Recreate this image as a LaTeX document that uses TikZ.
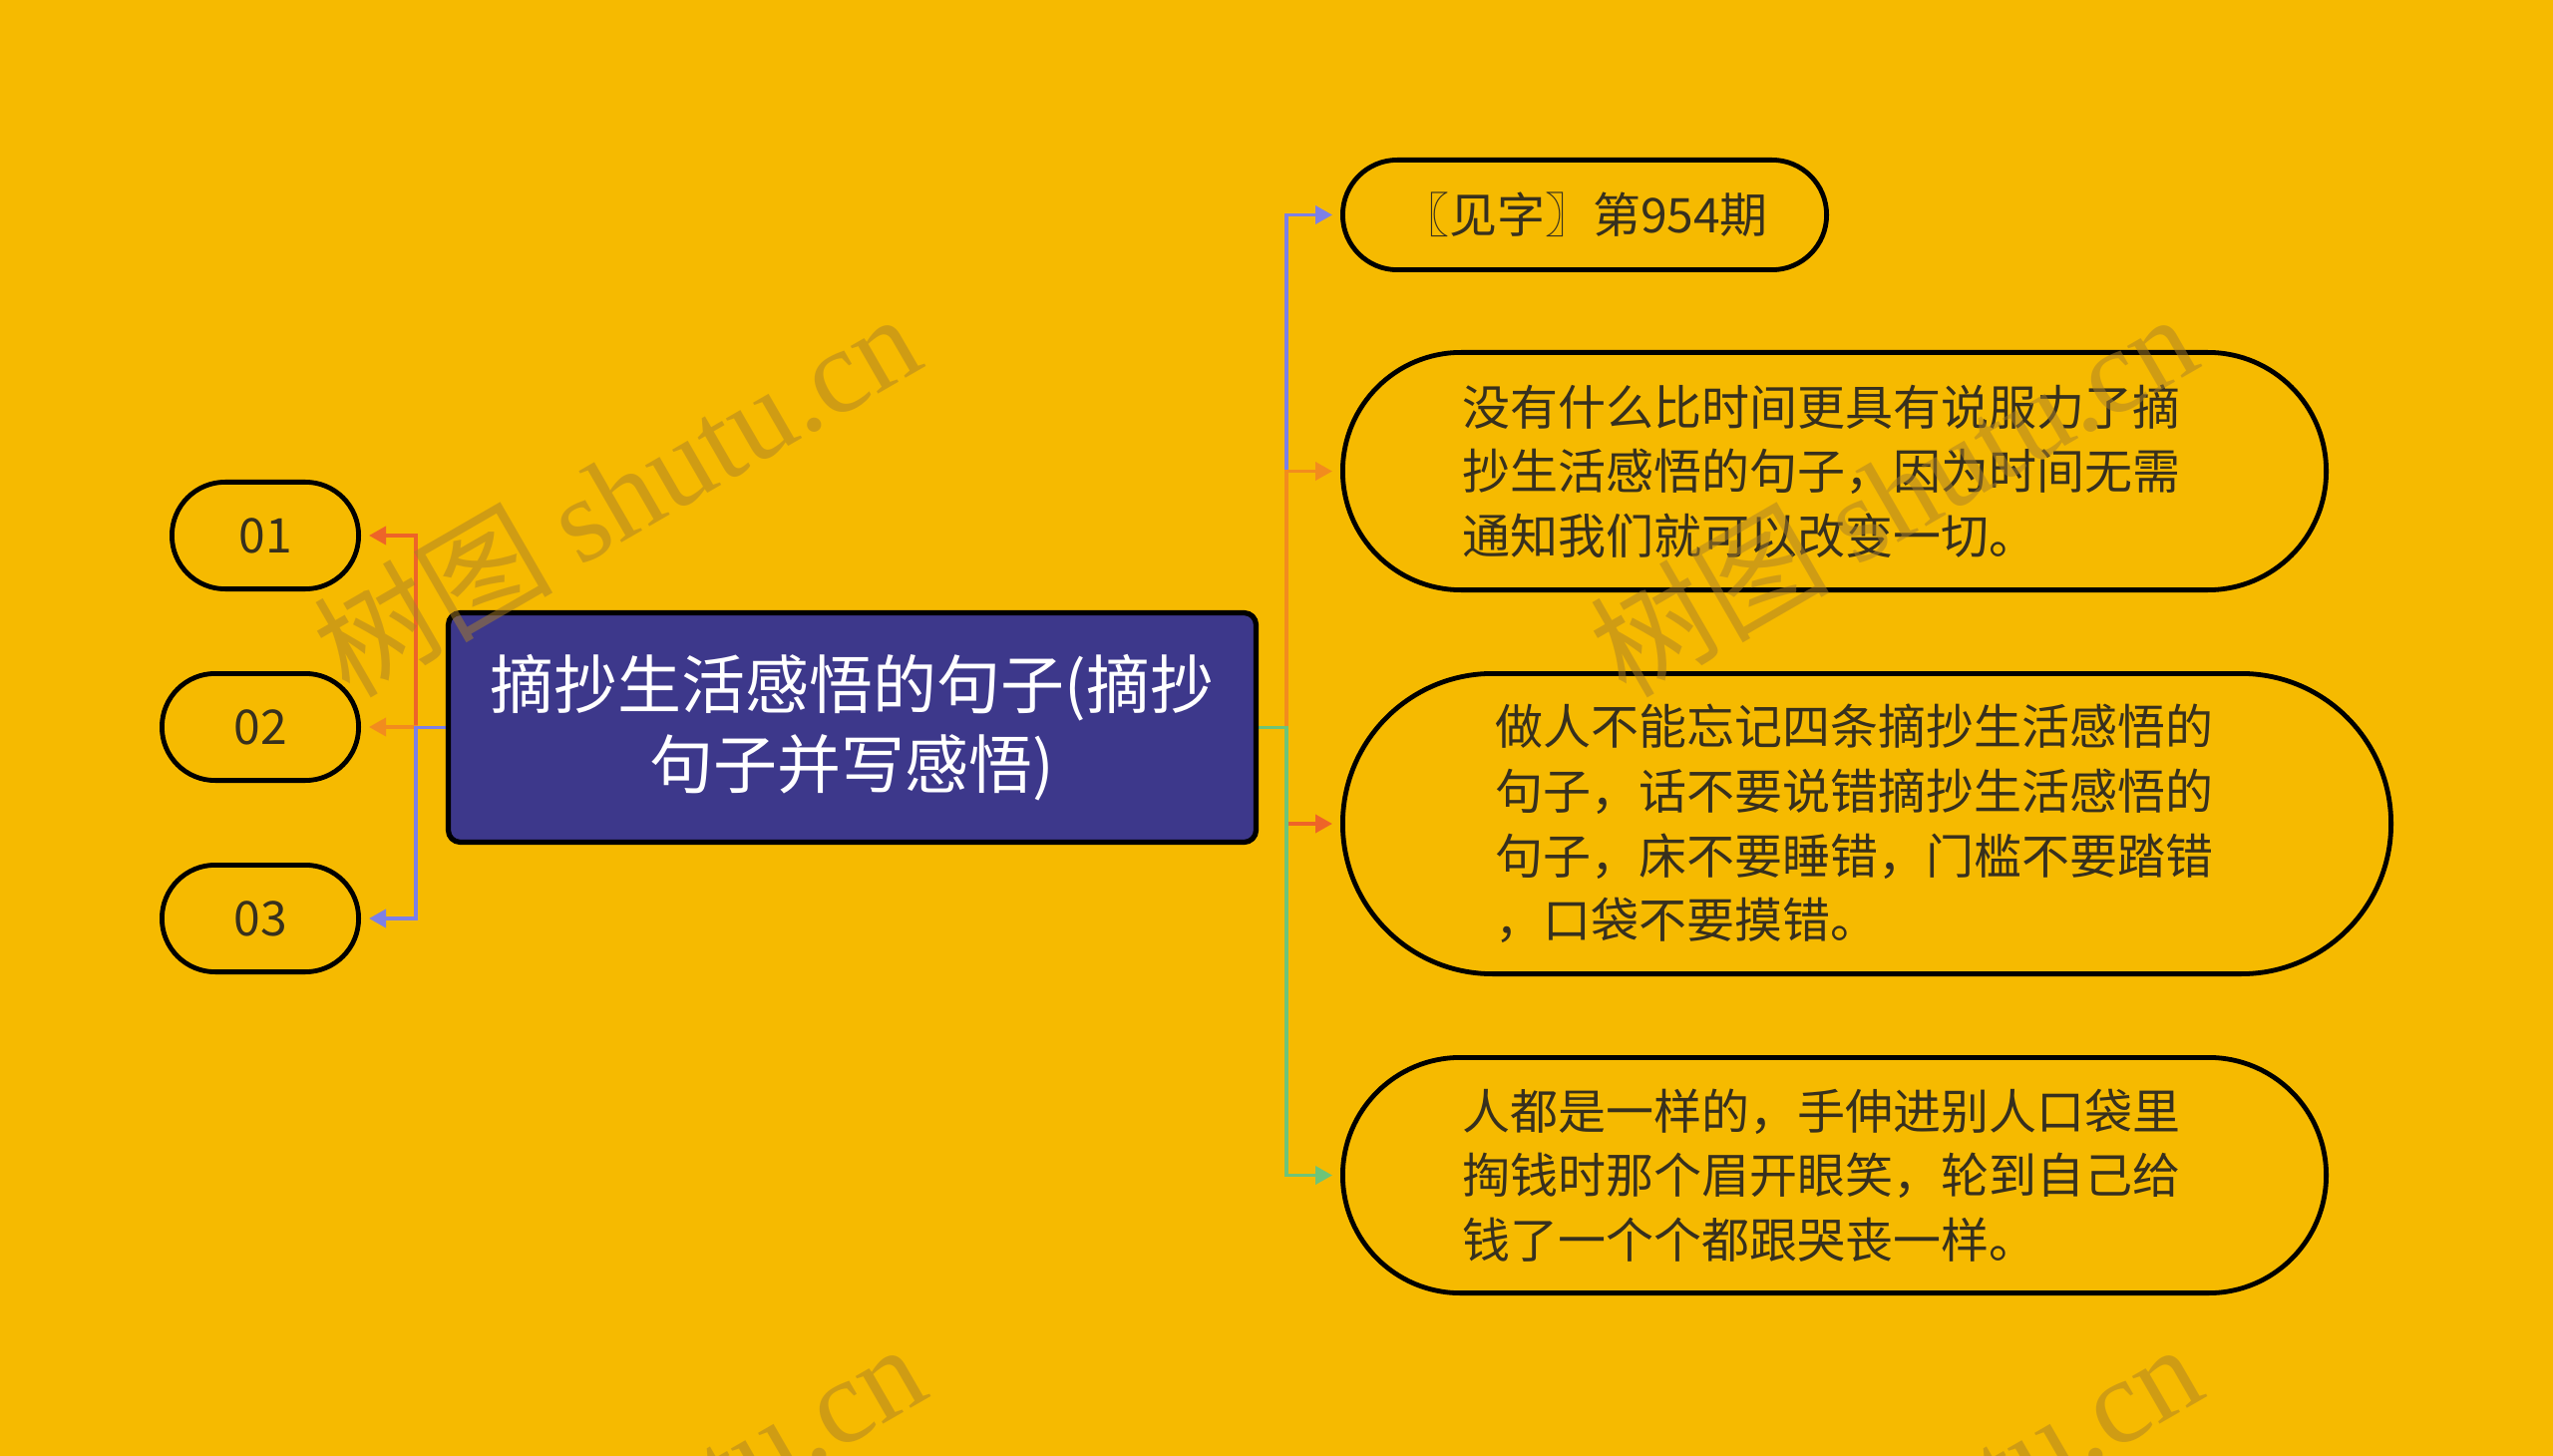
\documentclass[tikz,border=0pt]{standalone}
\usepackage{fontspec}
\setmainfont{Noto Sans CJK SC}
\newfontfamily\wmserif{Liberation Serif}
\usetikzlibrary{arrows.meta}
\definecolor{bgc}{RGB}{246,186,0}
\definecolor{boxc}{RGB}{61,56,139}
\definecolor{txtc}{RGB}{55,48,30}
\definecolor{lavc}{RGB}{125,128,230}
\definecolor{orgc}{RGB}{242,140,30}
\definecolor{orrc}{RGB}{238,100,40}
\definecolor{grnc}{RGB}{110,196,120}
\definecolor{wmc}{RGB}{170,128,40}
\pgfdeclarelayer{bg}
\pgfsetlayers{bg,main}
\begin{document}
\begin{tikzpicture}[x=0.5pt,y=-0.5pt,
  leaf/.style={draw=black, line width=2.4pt, fill=bgc, text=txtc,
    font=\fontsize{24pt}{32.3pt}\selectfont, align=left, inner sep=0pt},
  root/.style={draw=black, line width=2.6pt, fill=boxc, text=white,
    font=\fontsize{32pt}{40pt}\selectfont, align=center, inner sep=0pt,
    rounded corners=6pt},
  conn/.style={line width=1.8pt, -{Triangle[length=8.5pt,width=9pt]}, shorten >=4pt},
  wmark/.style={text=wmc, opacity=0.5, font=\fontsize{60pt}{60pt}\selectfont,
    anchor=base west, rotate=30, inner sep=0pt}
]
\useasboundingbox (0,0) rectangle (2560,1460);
\begin{pgfonlayer}{bg}
  \fill[bgc] (0,0) rectangle (2560,1460);
\end{pgfonlayer}

% central node
\node[root, minimum width=405pt, minimum height=115pt] (C) at (854.5,729.5)
  {摘抄生活感悟的句子(摘抄\\句子并写感悟)};

% left nodes
\node[leaf, align=center, minimum width=93.6pt, minimum height=53.6pt, rounded corners=26.7pt] (L1) at (266,537) {01};
\node[leaf, align=center, minimum width=98.6pt, minimum height=53.6pt, rounded corners=26.7pt] (L2) at (261,729) {02};
\node[leaf, align=center, minimum width=98.6pt, minimum height=53.6pt, rounded corners=26.7pt] (L3) at (261,921) {03};

% right nodes
\node[leaf, minimum width=242.6pt, minimum height=55.1pt, rounded corners=27.4pt] (R1) at (1589,215.5)
  {〖见字〗第954期};
\node[leaf, text width=373pt, minimum width=493.1pt, minimum height=119.1pt, rounded corners=59.4pt] (R2) at (1839.5,472.5)
  {没有什么比时间更具有说服力了摘\\抄生活感悟的句子，因为时间无需\\通知我们就可以改变一切。};
\node[leaf, text width=373pt, minimum width=525.6pt, minimum height=150.6pt, rounded corners=75.2pt] (R3) at (1872,826)
  {做人不能忘记四条摘抄生活感悟的\\句子，话不要说错摘抄生活感悟的\\句子，床不要睡错，门槛不要踏错\\，口袋不要摸错。};
\node[leaf, text width=373pt, minimum width=493.1pt, minimum height=118.1pt, rounded corners=59pt] (R4) at (1839.5,1178.5)
  {人都是一样的，手伸进别人口袋里\\掏钱时那个眉开眼笑，轮到自己给\\钱了一个个都跟哭丧一样。};

% connectors
\begin{pgfonlayer}{bg}
  \draw[conn, orrc] (C.west) -- ++(-30,0) |- (L1.east);
  \draw[conn, orgc] (C.west) -- ++(-30,0) |- (L2.east);
  \draw[conn, lavc] (C.west) -- ++(-30,0) |- (L3.east);
  \draw[conn, lavc] (C.east) -- ++(28,0) |- (R1.west);
  \draw[conn, orgc] (C.east) -- ++(28,0) |- (R2.west);
  \draw[conn, orrc] (C.east) -- ++(28,0) |- (R3.west);
  \draw[conn, grnc] (C.east) -- ++(28,0) |- (R4.west);
\end{pgfonlayer}

% watermark
\begin{scope}
  \clip (0,0) rectangle (2560,1460);
  \node[wmark] (W1) at (350,702) {树图 {\wmserif shutu.cn}};
  \node[wmark] (W2) at (1630,702) {树图 {\wmserif shutu.cn}};
  \node[wmark] (W3) at (355,1735) {树图 {\wmserif shutu.cn}};
  \node[wmark] (W4) at (1635,1735) {树图 {\wmserif shutu.cn}};
\end{scope}
\end{tikzpicture}
\end{document}
